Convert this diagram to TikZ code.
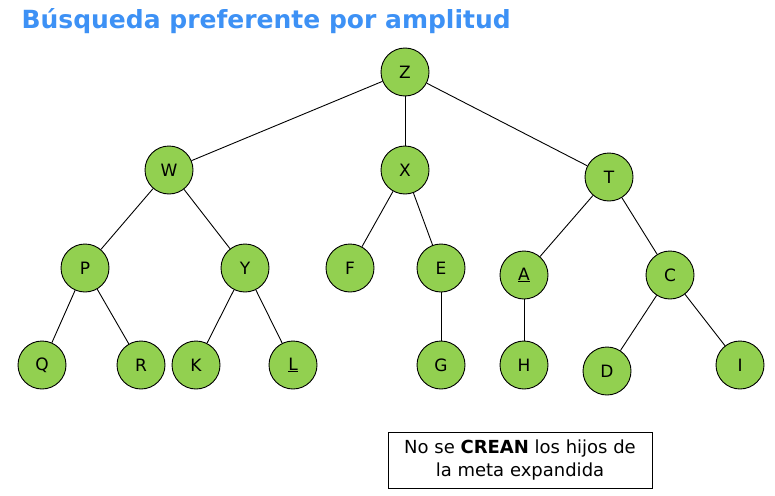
\documentclass[tikz,border=0pt]{standalone}
\usepackage{fontspec}
\setmainfont{DejaVu Sans}
\begin{document}
\begin{tikzpicture}[x=1pt,y=-1pt,
  st/.style={circle,draw=black,line width=0.9pt,fill=nodegreen,minimum size=48pt,inner sep=0pt,font=\fontsize{17}{17}\selectfont},
  edge/.style={draw=black,line width=0.9pt}]
\definecolor{nodegreen}{HTML}{92D050}
\definecolor{titleblue}{HTML}{3D91F5}
\useasboundingbox (0,0) rectangle (775,495);
\node[anchor=west,text=titleblue,font=\fontsize{25}{25}\selectfont\bfseries] (title) at (18,21) {Búsqueda preferente por amplitud};
\node[st] (Z) at (405,72) {Z};
\node[st] (W) at (169,170) {W};
\node[st] (X) at (405,170) {X};
\node[st] (T) at (609,177) {T};
\node[st] (P) at (85,268) {P};
\node[st] (Y) at (245,268) {Y};
\node[st] (F) at (350,268) {F};
\node[st] (E) at (441,268) {E};
\node[st] (A) at (524,275) {\underline{A}};
\node[st] (C) at (670,275) {C};
\node[st] (Q) at (42,365) {Q};
\node[st] (R) at (141,365) {R};
\node[st] (K) at (196,365) {K};
\node[st] (L) at (293,365) {\underline{L}};
\node[st] (G) at (441,365) {G};
\node[st] (H) at (524,365) {H};
\node[st] (D) at (607,371) {D};
\node[st] (I) at (740,365) {I};
\foreach \a/\b in {Z/W,Z/X,Z/T,W/P,W/Y,X/F,X/E,T/A,T/C,P/Q,P/R,Y/K,Y/L,E/G,A/H,C/D,C/I}
  \draw[edge] (\a) -- (\b);
\node[draw=black,line width=0.9pt,minimum width=264pt,minimum height=56pt,align=center,font=\fontsize{18}{23}\selectfont] (note) at (520,460) {No se \textbf{CREAN} los hijos de\\la meta expandida};
\end{tikzpicture}
\end{document}
